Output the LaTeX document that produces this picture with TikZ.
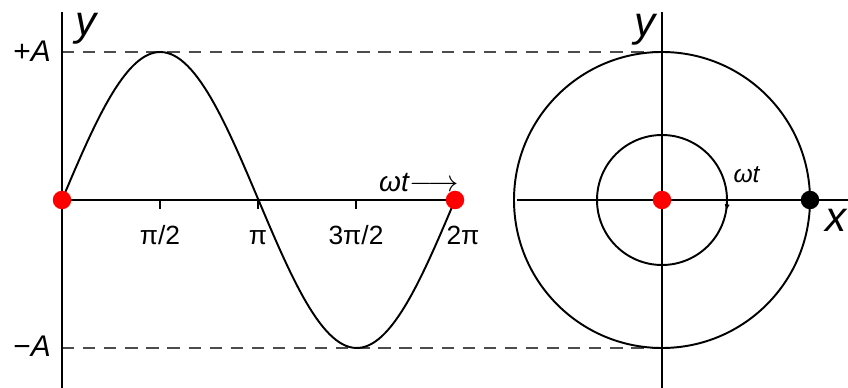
\documentclass[tikz,border=0pt]{standalone}
\usepackage{fontspec}
\setmainfont{Liberation Sans}
\usetikzlibrary{calc, positioning, arrows.meta}

\begin{document}
\begin{tikzpicture}[>=latex, line join=round,
    axis/.style={line width=1.3pt},
    curve/.style={line width=1.1pt},
    guide/.style={line width=1.2pt, black!70, dash pattern=on 7pt off 5pt},
    dot/.style={circle, fill=red, inner sep=0pt, minimum size=0.37cm},
    big/.style={font=\fontsize{24}{26}\selectfont\itshape, anchor=base, inner sep=0pt},
    tick/.style={font=\fontsize{15}{17}\selectfont, anchor=base}]
    \useasboundingbox (0,0) rectangle (16.96,7.76);

    % 1. Các điểm chính
    \coordinate (O) at (1.24,3.76);
    \coordinate (E) at (9.10,3.76);
    \coordinate (C) at (13.24,3.76);

    % 2. Đường gióng nét đứt +A, -A
    \draw[guide] (1.24,6.72) -- (13.24,6.72);
    \draw[guide] (1.24,0.80) -- (13.24,0.80);

    % 3. Trục của đồ thị sin
    \draw[axis] (1.24,0) -- (1.24,7.52);
    \draw[axis] (O) -- (E);
    \node[big] (yl) at (1.72,7.04) {y};
    \node[font=\fontsize{17}{19}\selectfont, anchor=base east] (pA) at (1.14,6.52) {+\textit{A}};
    \node[font=\fontsize{17}{19}\selectfont, anchor=base east] (mA) at (1.14,0.62) {−\textit{A}};

    % 4. Đồ thị y = A sin(wt)
    \draw[curve, domain=0:360, samples=120]
        plot ({1.24 + \x/360*7.86}, {3.76 + 2.96*sin(\x)});

    % 5. Vạch chia và nhãn
    \draw[curve] (3.20,3.76) -- (3.20,3.58);
    \draw[curve] (5.16,3.76) -- (5.16,3.58);
    \draw[curve] (7.12,3.76) -- (7.12,3.58);
    \node[tick] (t1) at (3.20,2.86) {π/2};
    \node[tick] (t2) at (5.16,2.86) {π};
    \node[tick] (t3) at (7.12,2.86) {3π/2};
    \node[tick] (t4) at (9.26,2.86) {2π};
    \node[font=\fontsize{16}{18}\selectfont, anchor=base] (wt) at (8.38,3.92) {\textit{ωt}$\longrightarrow$};

    % 6. Đường tròn và trục Oxy
    \draw[axis] (10.34,3.76) -- (16.96,3.76);
    \draw[axis] (13.24,0) -- (13.24,7.52);
    \draw[curve] (C) circle (2.96);
    \draw[curve] (C) circle (1.30);
    \draw[curve, -{Latex[length=4pt,width=3pt]}] ($(C)+(2:1.30)$) arc (2:-10:1.30);
    \node[big] (yr) at (12.90,7.02) {y};
    \node[big] (xr) at (16.72,3.12) {x};
    \node[font=\fontsize{14}{16}\selectfont, anchor=base] (wr) at (14.94,4.10) {\textit{ωt}};

    % 7. Các chấm
    \node[dot] (d1) at (O) {};
    \node[dot] (d2) at (E) {};
    \node[dot] (d3) at (C) {};
    \node[dot, fill=black] (d4) at (16.20,3.76) {};
\end{tikzpicture}
\end{document}
